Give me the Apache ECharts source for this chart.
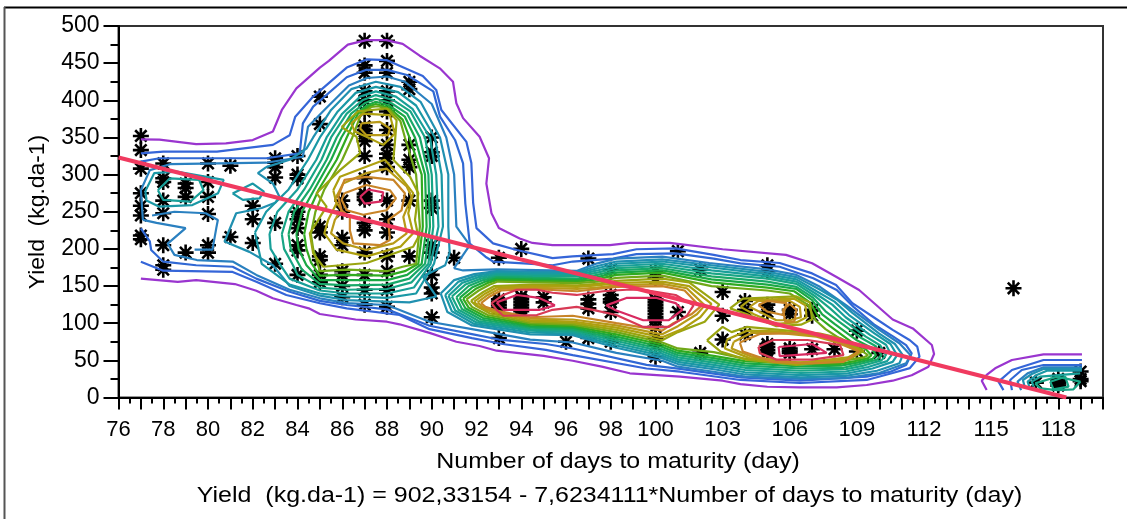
<!DOCTYPE html>
<html><head><meta charset="utf-8">
<style>html,body{margin:0;padding:0;background:#fff}#c{width:1127px;height:519px}</style>
<script src="https://cdn.jsdelivr.net/npm/echarts@6/dist/echarts.min.js"></script>
</head><body><div id="c"></div>
<script>
const xTickLabels=[76,78,80,82,84,86,88,90,92,94,96,98,100,103,106,109,112,115,118];
const yTickStep=50;
const levelColors=['#9a35cf','#3565d8','#3068d4','#2a80c0','#2090b0','#1a98a5','#189f98','#18a585','#18a868','#1aa845','#30aa20','#70a818','#9aa510','#aea010','#b89a18','#c88428','#d83a55','#d82a60'];
const regression=[[76,323],[118.36,0]];
const stars=[[77,352],[77,333],[77,308],[77,275],[77,258],[77,245],[77,218],[77,213],
[78,315],[78,295],[78,290],[78,265],[78,248],[78,205],[78,178],[78,172],
[79,288],[79,282],[79,270],[79,195],[80,315],[80,290],[80,270],[80,247],[80,205],[80,195],
[81,312],[81,216],[82,258],[82,240],[82,208],[83,322],[83,316],[83,310],[83,296],[83,235],[83,180],
[84,325],[84,300],[84,295],[84,250],[84,240],[84,228],[84,205],[84,198],[84,165],
[85,405],[85,368],[85,230],[85,222],[85,190],[85,185],[85,165],[85,155],
[86,265],[86,250],[86,215],[86,205],[86,170],[86,165],[86,150],[86,135],
[87,480],[87,447],[87,437],[87,412],[87,400],[87,385],[87,365],[87,360],[87,355],[87,345],[87,325],[87,295],[87,274],[87,270],[87,266],[87,235],[87,225],[87,195],[87,165],[87,145],[87,125],
[88,480],[88,453],[88,437],[88,412],[88,400],[88,385],[88,360],[88,340],[88,328],[88,322],[88,310],[88,265],[88,240],[88,222],[88,190],[88,170],[88,145],[88,122],
[89,425],[89,415],[89,340],[89,320],[89,310],[89,265],[89,190],
[90,350],[90,330],[90,325],[90,265],[90,255],[90,205],[90,195],[90,165],[90,148],[90,140],[90,108],
[91,188],[93,188],[93,132],[93,128],[93,124],[93,120],[93,80],[94,200],[94,136],[94,132],[94,128],[94,124],[94,120],[94,116],[95,135],[95,128],[96,75],
[97,187],[97,132],[97,126],[97,120],[97,80],[98,172],[98,138],[98,132],[98,128],[98,115],[98,75],
[100,170],[100,160],[100,132],[100,128],[100,124],[100,120],[100,116],[100,112],[100,108],[100,105],[100,95],[100,80],[100,70],[100,55],
[101,197],[101,115],[102,172],[102,60],[103,142],[103,110],[103,78],[104,130],[104,118],[104,85],
[105,178],[105,170],[105,125],[105,115],[105,72],[105,68],[105,64],[105,60],[106,118],[106,112],[106,66],[106,63],[106,60],
[107,118],[107,110],[107,65],[108,65],[109,90],[109,62],[110,60],[116,147],
[117,20],[118,25],[118,22],[118,19],[118,16],[119,35],[119,25],[119,22]];

const L0=[[77,347.5],[77.83,347],[79.47,341],[80.8,342],[82,346.5],[82.9,358],[83.3,387],[83.95,416],[85,444],[85.4,453],[86.25,475],[87.08,481],[87.97,481],[88.7,476],[89.46,460],[90.36,443],[90.95,425],[91.1,396],[91.4,376],[92.14,351],[92.56,322],[92.44,288],[92.67,248],[93,228],[93.93,214],[94.5,208],[95.4,205],[97.96,205],[98.85,208],[100.64,208],[103,199.5],[105.83,192],[107,180.6],[108.07,162.6],[109.1,144.7],[110.6,105],[111.5,93],[112.35,70.6],[112.45,58.5],[112.2,41.5],[111.45,30],[110.6,22.6],[109.44,16.8],[108.1,13.7],[106.45,13.7],[105,14.5],[103.8,18],[103,22.6],[101.1,28],[98.85,32.6],[97.6,41.5],[96.3,49.5],[95,56],[92.9,63],[92.14,69.3],[91.1,75],[89.9,87],[88.56,98.5],[88,102],[86.6,105],[85,112.4],[84.5,120],[83.95,124.5],[82.9,133.5],[82.16,143.7],[81.2,152.7],[79.47,158],[78.65,155.5],[77,160]];
const L1=[[77,328.6],[78,331],[80.4,331],[82.9,340],[83.65,353],[83.9,378],[84.7,405],[86.2,444],[87.08,455],[88,454],[89.6,432.6],[90.2,414],[90.43,387],[91.55,344],[91.77,315.6],[91.85,262],[92,228],[92.74,207.5],[93.8,198.5],[95.4,187.5],[96.3,190],[98.1,193],[99.15,199.5],[100.9,200.7],[102.6,192],[103.8,185],[105.55,181],[107,167],[108.07,151.4],[108.8,127],[109.8,107],[110.6,91],[111.37,77],[111.7,68.4],[111.8,55],[111.37,39.6],[110.6,33],[109.44,23.6],[106.45,19.5],[103.8,23.6],[101.1,34.7],[99.6,39],[96.3,57],[95.1,64],[93.17,72],[91.8,80],[89.9,92],[88.56,111],[86.2,120],[85,126.8],[83.5,138],[82.16,155.8],[81.1,169],[78,170.7],[77,182.7]];
const L2=[[77,317.4],[77.83,322],[82.6,322],[84.1,328.6],[84.24,369],[84.7,391.4],[86.2,431],[87.08,441],[88,441],[88.9,434],[90.07,412],[90.37,378],[91.04,346.6],[91.4,315],[91.5,261],[91.7,207],[92.4,189.5],[92.74,183],[94.1,180.5],[95.4,178],[96.3,183],[98.1,187],[99.15,193],[100.9,194],[102.6,187],[103.8,180.5],[105.55,176],[107.05,160.4],[108.1,144.6],[108.85,122],[109.8,97.6],[110.63,82],[111.2,70.6],[111.45,59.4],[111.2,43.7],[110.5,34.7],[109.44,28],[106.45,22.6],[103.8,27],[101.1,38.5],[99.6,44],[96.3,66],[95.1,72],[93,78],[91.85,85],[89.9,96.6],[88,118.6],[86.2,124.5],[85,130],[83.65,142.4],[82.16,160],[81.1,176],[79.47,178],[78,182.8],[77.46,198.5],[77.4,210],[77,227.7]];
const L3=[[77.09,239],[77,279],[77.4,306],[78.3,314],[82.6,316],[84.24,324],[84.47,364.5],[85.2,387],[86.3,420],[87.1,430],[88,432],[88.8,425],[90,395],[90.65,350],[91,300],[91.1,230],[91.7,205],[91,174],[91.4,171],[92.9,172.5],[96.5,170.6],[97.4,180.6],[98.25,187],[100.3,189.5],[102.4,181],[105,172.5],[106.3,165],[107.35,149],[108.5,124.5],[110,91],[110.9,73],[111.4,57],[111.2,46],[110,33],[108.5,26],[106.5,25],[104,28],[102.6,34.7],[101,41.5],[100.3,49.5],[98.25,60],[96.3,74],[94.4,78],[91.8,92],[89.9,102],[88,124.5],[86.2,127],[85,133.5],[83.65,145],[82.16,165],[81.1,183],[79.5,185],[78.5,192],[78.2,207],[79,228],[77.7,235],[77.09,239]];
const L3b=[[79.4,199],[80.2,199],[80.37,228],[80.44,239],[79.9,248],[78.5,250],[77.5,245]];
const L4a=[[82.6,310],[82.23,302],[82.9,288],[83.2,270],[83,262],[82.4,255],[81.26,248],[80.74,210],[81.85,196],[82.9,178],[83.65,150],[85,137],[86.2,131],[88,129],[89,128],[90.2,136],[89.6,163],[90.6,178],[90.8,195],[90.74,230],[90.74,300],[90.37,350],[89.5,398],[88.6,418],[87.5,425],[86.4,415],[85.5,387],[84.7,350],[84.4,335],[83.65,320]];
const L5a=[[82.1,222],[82.6,250],[83.6,280],[84.47,320],[85,350],[85.8,385],[86.6,410],[87.5,418],[88.5,411],[89.3,393],[90.14,350],[90.44,300],[90.5,230],[90.1,180],[89.3,140],[88,134],[86.2,136],[85,140],[83.65,152],[82.4,180]];
const L6a=[[82.75,220],[83.1,250],[84,280],[84.84,320],[85.3,350],[86,382],[86.8,405],[87.5,412],[88.4,405],[89.15,388],[89.92,350],[90.2,300],[90.3,230],[89.95,180],[89.2,148],[88,140],[86.2,140],[85,144],[83.65,160],[83.2,180],[82.8,200]];
const L7a=[[83.3,220],[83.6,250],[84.3,280],[85.07,320],[85.5,350],[86.2,382],[86.9,400],[87.5,407],[88.3,400],[89.05,385],[89.7,350],[90,300],[90.07,230],[89.85,180],[89.1,155],[88,146],[86.2,145],[85,148],[84,165],[83.8,178],[83.4,200]];
const L8a=[[83.6,220],[83.85,250],[84.55,280],[85.3,320],[85.75,350],[86.4,382],[87,396],[87.5,402],[88.2,396],[88.9,382],[89.47,350],[89.85,300],[89.92,230],[89.7,180],[89,160],[88,152],[86.2,151],[85,153],[84.2,172],[83.7,200]];
const L9a=[[83.95,220],[84.2,250],[84.75,280],[85.5,320],[85.96,350],[86.6,382],[87.1,393],[87.5,398],[88.1,393],[88.8,378],[89.25,350],[89.7,300],[89.77,230],[89.55,180],[88.9,165],[88,158],[86.2,158],[85,158],[84.4,178],[84.05,200]];
const L10a=[[84.3,220],[84.5,250],[84.95,280],[85.75,320],[86.2,350],[86.7,382],[87.2,392],[87.5,395],[88.1,390],[88.7,374],[89,350],[89.55,300],[89.6,230],[89.4,180],[88.8,170],[88,164],[86.2,165],[85,164],[84.6,182],[84.4,200]];
const L11a=[[84.6,220],[84.8,250],[85.2,280],[86,320],[86.45,350],[86.85,382],[87.3,391],[87.6,392],[88.1,388],[88.6,372],[88.8,350],[89.3,300],[89.47,230],[89.3,180],[88.7,176],[88,170],[86.2,172],[85,170],[84.7,200]];
const L12a=[[85.97,364],[86.7,385],[88,389],[88.43,373],[88.35,342],[88.28,320],[89.03,297],[89.4,275],[89.25,239],[89.4,216],[89.17,203],[87.09,181],[85.15,176],[84.7,194],[84.55,221],[85.3,257],[84.85,275],[85.9,306],[86.8,329],[86.64,351]];
const L13a=[[85.6,279],[85.9,297],[87.1,311],[87.9,320],[88.7,293],[89.17,275],[88.95,248],[89.17,221],[88.6,203],[87.1,190],[85.74,199],[85.2,221],[85.37,239],[85.74,261]];
const L13b=[[86.4,369],[86.93,382],[88.13,380],[88.35,355],[87.83,340],[87.08,351],[86.56,358]];
const L14a=[[85.67,266],[86.04,288],[87.08,302],[87.98,308],[88.88,284],[89.1,270],[88.73,243],[88.88,221],[88.28,207.5],[87.08,198.6],[86.04,207.5],[85.5,221],[85.67,239],[85.97,252]];
const L14b=[[86.86,369],[87.68,371],[88.13,362],[88.05,353],[87.08,353],[86.8,362]];
const L15a=[[85.82,270],[86.1,293],[87.08,297],[88.28,293],[88.8,275],[88.65,252],[88.06,239],[88.13,212],[87.68,205],[86.49,207.5],[86.34,225],[86.34,243],[85.97,252]];
const L15b=[[86.1,275],[87.08,286],[88.13,279],[88.4,268],[87.98,252],[86.94,246],[86.2,252],[85.97,266]];
const L17a=[[86.8,270],[87.16,280],[87.83,276],[87.76,264],[87,261]];
const isl1=[[77.2,278],[77.6,302],[78.6,304],[80.7,293],[80.45,275],[79.3,259],[77.8,257],[77.25,265]];
const isl2=[[77.76,279],[78.3,295],[79.6,293],[79.8,279],[79.2,263.5],[78,266]];
const isl3=[[81.1,274.7],[82,288],[82.5,277],[82.3,268],[81.56,266]];

const L4m=[[90.4,140],[91,158],[91.9,166],[92.9,170],[94.5,169],[96.5,169],[97.4,177],[98.25,183],[100.3,186],[102.5,178],[105,169],[106.3,162],[107.3,146],[108.1,132],[108.8,114],[110,86],[110.7,72],[111.05,57],[110.9,46],[109.9,36],[108.5,29],[106.5,27],[104,31],[102.6,38],[101,45],[100.3,53],[98.25,67],[96.3,84],[94.4,85],[91.8,97],[90.7,115]];
const L5m=[[90.6,138],[91.2,156],[92,164],[92.9,168],[94.5,167],[96.5,167],[97.4,174],[98.25,180],[100.3,183],[102.5,175],[105,166],[106.3,159],[107.2,143],[108,129],[108.65,111],[109.8,86],[110.5,72],[110.8,57],[110.6,48],[109.7,39],[108.5,32],[106.5,30],[104,34],[102.6,41],[101,48],[100.3,56],[98.25,70],[96.3,86],[94.4,87.5],[91.9,99],[90.9,116]];
const L6m=[[90.75,137],[91.35,154],[92.1,162],[92.9,166],[94.5,165],[96.5,165],[97.4,171],[98.25,177],[100.3,180],[102.5,171],[105,163],[106.3,156],[107.15,140],[107.9,125],[108.5,108],[109.6,84],[110.3,71],[110.55,57],[110.35,49],[109.5,41],[108.5,35],[106.5,33],[104,37],[102.6,44],[101,51],[100.3,59],[98.25,73],[96.3,88],[94.4,90],[92,101],[91.05,117]];
const L7m=[[90.9,136],[91.5,152],[92.2,160],[92.9,164],[94.5,163],[96.5,163],[97.4,168],[98.25,174],[100.3,177],[102.5,167],[105,160],[106.3,153],[107.1,137],[107.8,120],[108.35,105],[109.4,82],[110.05,70],[110.3,57],[110.1,50],[109.3,43],[108.5,38],[106.5,36],[104,40],[102.6,47],[101,54],[100.3,62],[98.25,76],[96.3,90],[94.4,92],[92.1,103],[91.2,118]];
const L8m=[[91.1,135],[91.65,150],[92.3,158],[92.9,162],[94.5,161],[96.5,160],[97.4,165],[98.25,171],[100.3,174],[102.5,163],[105,156],[106.3,149],[107.05,134],[107.6,116],[108.2,102],[109.2,80],[109.85,69],[110.1,57],[109.9,51],[109.1,45],[108.4,40],[106.5,39],[104,43],[102.6,50],[101,57],[100.3,65],[98.25,79],[96.3,92],[94.4,94],[92.2,105],[91.35,119]];
const L9m=[[91.25,134],[91.8,148],[92.4,156],[92.9,160],[94.5,159],[96.5,158],[97.4,162],[98.25,168],[100.3,171],[102.5,159],[105,152],[106.3,146],[107,131],[107.45,112],[108,99],[109,77],[109.65,67],[109.85,57],[109.7,52],[109,47],[108.3,43],[106.5,42],[104,46],[102.6,53],[101,60],[100.3,68],[98.25,82],[96.3,94],[94.4,96],[92.3,107],[91.5,120]];
const L10m=[[91.4,133],[91.95,146],[92.5,154],[92.9,158],[94.5,157],[96.5,156],[97.4,159],[98.25,165],[100.3,168],[102.5,155],[105,148],[106.2,143],[106.9,128],[107.3,108],[107.8,96],[108.8,74],[109.4,65],[109.65,57],[109.5,53],[108.9,49],[108.2,45],[106.5,45],[104,49],[102.6,56],[101,63],[100.3,71],[98.25,85],[96.3,96],[94.4,98],[92.4,109],[91.65,121]];
const L11m=[[91.55,132],[92.1,144],[92.6,152],[92.95,156],[94.5,155],[96.5,154],[97.4,156],[98.25,161],[100.3,164],[102.5,150],[105,144],[106,140],[106.8,125],[107.15,104],[107.6,92],[108.6,72],[109.2,63],[109.5,57],[109.3,54],[108.7,51],[108,48],[106.5,47],[104,52],[102.6,61],[101,66],[100.3,74],[98.25,88],[96.3,98],[94.4,100],[92.5,111],[91.8,122]];
const L12m=[[91.75,130],[92.3,142],[92.8,150],[94.5,152],[96.5,151],[97.4,153],[98.25,157],[100.3,160],[101.5,155],[102.85,125],[102.2,102],[101,88],[100.3,77],[98.25,91],[96.3,100],[94.4,102],[92.6,113],[92,123]];
const L13m=[[91.9,129],[92.4,140],[92.9,148],[94.5,150],[96.5,149],[97.4,151],[98.25,154],[100.3,156],[101.5,150],[102.5,126],[102,108],[101.2,92],[100.3,81],[98.25,94],[96.3,102],[94.4,104],[92.7,115],[92.1,122]];
const L14m=[[92.05,128],[92.5,138],[93,146],[94.5,148],[96.5,146],[97.4,148],[98.25,151],[100.3,153],[101.4,147],[102.2,124],[101.85,112],[101,96],[100.3,85],[98.25,97],[96.3,105],[94.4,106],[92.8,116],[92.25,122]];
const L15m=[[92.2,127],[92.6,136],[93.1,144],[94.5,146],[96.5,143],[97.4,146],[98.25,149],[100.3,150],[101.3,144],[102,122],[101.6,112],[100.8,100],[100.3,90],[98.25,100],[96.3,110],[94.4,108],[92.9,117],[92.4,122]];
const L16m=[[92.67,127],[93.2,138],[93.8,145],[94.7,145],[95.4,141],[96.47,138],[97.66,143],[98.7,145],[99.45,145],[100.9,138],[101.7,124],[101.4,110],[100.6,95],[99.45,95],[98.25,111],[97.2,118],[96.47,122],[95.4,118],[94.7,111],[93.2,110],[92.9,118]];
const L17m=[[92.9,128],[93.8,138],[94.8,134],[95.5,124],[94.8,118],[93.2,118]];
const L17n=[[97.8,124],[98.7,134],[100.05,134],[100.9,127],[101.2,118],[100.6,104],[99.45,104],[98.25,117]];

const L12c=[[102.3,77],[103,95],[103.4,88],[104.07,95],[105.56,91],[107.35,86],[108.25,80],[109.3,63],[108.7,52],[106.3,44],[104.07,51],[102.9,62]];
const L13c=[[103.2,78],[104.1,90],[105.5,89],[107.3,83],[108.2,77],[109.15,63],[108.6,54],[106.3,46],[104.2,53],[103.1,66]];
const L14c=[[103.5,75],[104.3,87],[105.5,87],[107.2,82],[108.1,74],[109.1,62],[108.5,50],[106.3,47],[104.3,55],[103.4,66]];
const L15c=[[103.77,74],[104.66,85.5],[106.8,86.6],[108.25,74],[109.1,61.6],[108.4,48],[107,46],[105.26,48],[103.9,62]];
const L16c=[[104.6,68.4],[105.26,77.4],[106.8,77.4],[108.25,70.6],[108.4,57],[107,51],[105.4,51],[104.66,60]];
const L17c=[[105.5,68],[107,72],[107.65,60],[105.55,55.8]];
const L12u=[[103.33,120],[103.9,133],[106.3,136],[106.9,128],[107,105],[106.5,98],[105.4,96],[104.1,112]];
const L13u=[[103.8,122],[104.2,131],[106.2,133],[106.7,124],[106.75,108],[106.3,101],[105.4,99],[104.4,112]];
const L14u=[[104.2,122],[104.6,130],[106,130],[106.45,122],[106.5,108],[106,104],[105.4,104],[104.8,113]];
const L15u=[[104.6,124.5],[105,130],[105.86,127],[105.7,111],[105,115.5]];
const L15v=[[106,126],[106.3,118],[106.2,102],[105.8,102],[105.7,118]];

const D0=[[114.8,10],[114.58,22.6],[114.8,30.3],[115.18,39.3],[115.93,50.5],[117.34,58],[119.06,58]];
const D1=[[115.55,10],[115.33,21.3],[115.93,37],[117.34,50.5],[119.06,50.5]];
const D2=[[115.93,10],[115.85,23.6],[116.37,37],[117.34,43.7],[119.06,43.7]];
const D3=[[116.34,10],[116.18,21.3],[116.63,32.5],[117.34,40.6],[119.06,40.6]];
const D4=[[116.52,12.3],[116.42,23.6],[116.82,31.6],[117.34,38.4],[119.06,38.4]];
const D5=[[116.74,12.3],[116.63,21.3],[117.04,30.3],[117.49,36],[119.06,36]];
const D6=[[116.9,14.6],[116.82,21.3],[117.19,28],[118.98,32.5]];
const D7=[[116.97,19],[117.94,28],[118.98,21.3],[118.68,11],[117.94,10],[117.2,12.3]];
const D8=[[117.64,21.3],[118.31,28],[118.46,14.6],[117.79,11]];

const openLines=[[0,L0],[1,L1],[2,L2],[3,L3],[3,L3b],[0,D0],[1,D1],[2,D2],[3,D3],[4,D4],[5,D5],[6,D6]];
const closedLines=[[4,L4a],[5,L5a],[6,L6a],[7,L7a],[8,L8a],[9,L9a],[10,L10a],[11,L11a],[12,L12a],[13,L13a],[13,L13b],[14,L14a],[14,L14b],[15,L15a],[15,L15b],[17,L17a],
[5,isl1],[6,isl2],[5,isl3],
[4,L4m],[5,L5m],[6,L6m],[7,L7m],[8,L8m],[9,L9m],[10,L10m],[11,L11m],[12,L12m],[13,L13m],[14,L14m],[15,L15m],[16,L16m],[17,L17m],[17,L17n],
[12,L12c],[13,L13c],[14,L14c],[15,L15c],[16,L16c],[17,L17c],[12,L12u],[13,L13u],[14,L14u],[15,L15u],[15,L15v],[7,D7],[7,D8]];

const font='"Liberation Sans",Arial,sans-serif';
const starPath='path://M10 0V20M0 10H20M2.9 2.9L17.1 17.1M17.1 2.9L2.9 17.1';
const lineSeries=(pts,lv)=>({type:'line',data:pts,showSymbol:false,smooth:false,silent:true,animation:false,z:3,lineStyle:{color:levelColors[lv],width:2.2}});
const series=[{type:'scatter',data:stars,symbol:starPath,symbolSize:16,z:2,silent:true,animation:false,itemStyle:{color:'none',borderColor:'#000',borderWidth:2.6,opacity:1}}];
openLines.forEach(([lv,p])=>series.push(lineSeries(p,lv)));
closedLines.forEach(([lv,p])=>series.push(lineSeries(p.concat([p[0]]),lv)));
series.push({type:'line',data:regression,showSymbol:false,silent:true,animation:false,z:4,lineStyle:{color:'#f03a5f',width:4}});

const chart=echarts.init(document.getElementById('c'),null,{renderer:'canvas'});
chart.setOption({
 animation:false,backgroundColor:'#fff',
 grid:{left:118.5,right:24,top:26,bottom:121.5,show:true,borderColor:'#333',borderWidth:2,backgroundColor:'transparent'},
 xAxis:{type:'value',min:76,max:120,interval:1,
  axisLine:{show:true,onZero:false,lineStyle:{color:'#000',width:2}},
  axisTick:{show:true,length:12,lineStyle:{color:'#000',width:2}},
  minorTick:{show:true,splitNumber:2,length:6,lineStyle:{color:'#000',width:2}},
  splitLine:{show:false},
  axisLabel:{margin:21,fontFamily:font,fontSize:22,color:'#000',showMinLabel:true,formatter:v=>xTickLabels.includes(v)?String(v):''}},
 yAxis:{type:'value',min:0,max:500,interval:yTickStep,
  axisLine:{show:true,lineStyle:{color:'#000',width:2}},
  axisTick:{show:true,length:15,lineStyle:{color:'#000',width:2}},
  minorTick:{show:true,splitNumber:2,length:8,lineStyle:{color:'#000',width:2}},
  splitLine:{show:false},
  axisLabel:{margin:19,fontFamily:font,fontSize:23,color:'#000'}},
 graphic:[
  {type:'line',shape:{x1:4,y1:7.5,x2:1127,y2:7.5},style:{stroke:'#000',lineWidth:2},z:10},
  {type:'line',shape:{x1:4.5,y1:7,x2:4.5,y2:519},style:{stroke:'#555',lineWidth:2},z:10},
  {type:'text',x:618,y:462,scaleX:1.135,style:{text:'Number of days to maturity (day)',font:'22px '+font,fill:'#000',textAlign:'center',textVerticalAlign:'middle'},z:10},
  {type:'text',x:609.5,y:495.5,scaleX:1.136,style:{text:'Yield  (kg.da-1) = 902,33154 - 7,6234111*Number of days to maturity (day)',font:'22px '+font,fill:'#000',textAlign:'center',textVerticalAlign:'middle'},z:10},
  {type:'text',x:38,y:212,rotation:Math.PI/2,scaleX:1.04,style:{text:'Yield  (kg.da-1)',font:'22px '+font,fill:'#000',textAlign:'center',textVerticalAlign:'middle'},z:10}
 ],
 series
});
</script></body></html>
